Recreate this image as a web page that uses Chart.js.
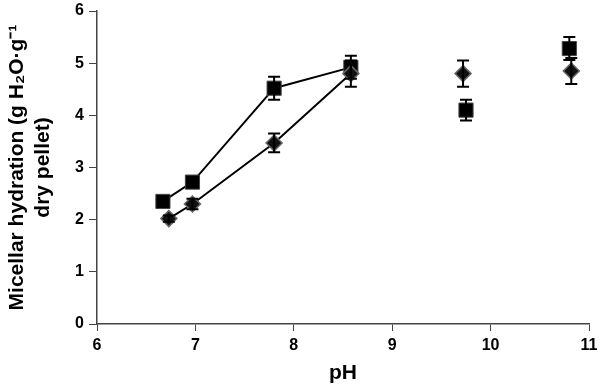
<!DOCTYPE html>
<html><head><meta charset="utf-8">
<script src="https://cdn.jsdelivr.net/npm/chart.js@4/dist/chart.umd.min.js"></script>
<style>html,body{margin:0;padding:0;background:#fff}#wrap{width:600px;height:387px}</style>
</head><body><div id="wrap"><canvas id="c"></canvas></div>
<script>
const squarePH = [6.67, 6.97, 7.80, 8.58, 9.75, 10.80];
const squareVal = [2.35, 2.72, 4.52, 4.92, 4.10, 5.28];
const squareErr = [0.05, 0.05, 0.22, 0.22, 0.20, 0.22];
const diamondPH = [6.73, 6.97, 7.80, 8.58, 9.72, 10.82];
const diamondVal = [2.02, 2.30, 3.47, 4.80, 4.80, 4.85];
const diamondErr = [0.06, 0.10, 0.18, 0.25, 0.25, 0.25];
const xTickStep = 1;
const yTickStep = 1;
const connectedCount = 4;

Chart.defaults.font.family = "'Liberation Sans', Arial, sans-serif";
Chart.defaults.font.weight = 'bold';
Chart.defaults.font.size = 16;
Chart.defaults.color = '#000';

const toPts = (xs, ys) => xs.map((x, i) => ({x, y: ys[i]}));
const seg = {borderColor: c => c.p0DataIndex >= connectedCount - 1 ? 'rgba(0,0,0,0)' : '#000'};

const errPlugin = {
  id: 'err',
  afterDatasetsDraw(chart) {
    const {ctx, scales: {x, y}} = chart;
    const sets = [[squarePH, squareVal, squareErr], [diamondPH, diamondVal, diamondErr]];
    ctx.save();
    ctx.strokeStyle = '#000';
    ctx.lineWidth = 2;
    sets.forEach(([xs, ys, es]) => {
      xs.forEach((xv, i) => {
        const px = x.getPixelForValue(xv);
        const t = y.getPixelForValue(ys[i] + es[i]);
        const b = y.getPixelForValue(ys[i] - es[i]);
        ctx.beginPath();
        ctx.moveTo(px, t); ctx.lineTo(px, b);
        ctx.moveTo(px - 6, t); ctx.lineTo(px + 6, t);
        ctx.moveTo(px - 6, b); ctx.lineTo(px + 6, b);
        ctx.stroke();
      });
    });
    ctx.restore();
  }
};

const tickFont = {family: "'Liberation Sans', Arial, sans-serif", size: 16, weight: 'bold'};

new Chart(document.getElementById('c'), {
  type: 'scatter',
  data: {datasets: [
    {data: toPts(diamondPH, diamondVal), showLine: true, borderColor: '#000', borderWidth: 2, segment: seg,
     pointStyle: 'rectRot', pointRadius: 8, pointBackgroundColor: '#111', pointBorderColor: '#666', pointBorderWidth: 1.5},
    {data: toPts(squarePH, squareVal), showLine: true, borderColor: '#000', borderWidth: 2, segment: seg,
     pointStyle: 'rect', pointRadius: 10, pointBackgroundColor: '#000', pointBorderColor: '#444', pointBorderWidth: 1}
  ]},
  options: {
    responsive: true, maintainAspectRatio: false, animation: false,
    layout: {padding: {top: 0, right: 9, left: 4, bottom: 0}},
    plugins: {legend: {display: false}, tooltip: {enabled: false}},
    scales: {
      x: {type: 'linear', min: 6, max: 11,
        afterFit: s => { s.height = 63; s.paddingRight = 9; },
        grid: {drawOnChartArea: false, color: '#444', tickLength: 7, tickColor: '#444'},
        border: {color: '#444', width: 1.5},
        ticks: {stepSize: xTickStep, color: '#000', font: tickFont, padding: 5, maxRotation: 0},
        title: {display: true, text: 'pH', color: '#000', font: {size: 21, weight: 'bold'}, padding: {top: 0, bottom: 1}}
      },
      y: {type: 'linear', min: 0, max: 6,
        afterFit: s => { s.width = 93; s.paddingTop = 8; s.paddingBottom = 0; },
        grid: {drawOnChartArea: false, color: '#444', tickLength: 8, tickColor: '#444'},
        border: {color: '#444', width: 1.5},
        ticks: {stepSize: yTickStep, color: '#000', font: tickFont, padding: 5},
        title: {display: true, text: ['Micellar hydration (g H₂O·g⁻¹', 'dry pellet)'], color: '#000',
          font: {size: 21, weight: 'bold', lineHeight: 1.26}, padding: 0}
      }
    }
  },
  plugins: [errPlugin]
});
</script></body></html>
